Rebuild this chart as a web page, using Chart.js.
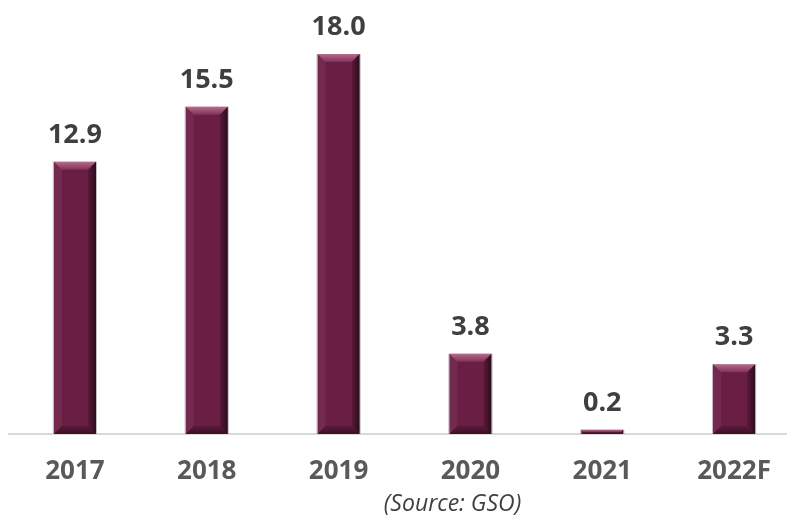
<!DOCTYPE html>
<html lang="en">
<head>
  <meta charset="utf-8">
  <title>GDP growth</title>
  <script src="https://cdn.jsdelivr.net/npm/chart.js"></script>
  <style>
    html, body { margin: 0; padding: 0; background: #fff; overflow: hidden; }
    #wrap { position: relative; width: 800px; height: 518px; }
    #source {
      position: absolute; left: 0; top: 486px; width: 905px; text-align: center;
      font: italic 23px "Open Sans", sans-serif; color: #404040;
    }
  </style>
</head>
<body>
  <div id="wrap">
    <canvas id="grafica" width="800" height="518"></canvas>
    <div id="source">(Source: GSO)</div>
  </div>
<script>
  const years = ['2017', '2018', '2019', '2020', '2021', '2022F'];
  const growth = [12.9, 15.5, 18.0, 3.8, 0.2, 3.3];

  // bevel effect + value labels on each bar
  const bevelBars = {
    id: 'bevelBars',
    afterDatasetsDraw(chart) {
      const ctx = chart.ctx;
      const meta = chart.getDatasetMeta(0);
      meta.data.forEach((bar, i) => {
        const l = bar.x - bar.width / 2, r = bar.x + bar.width / 2;
        const t = bar.y, bot = bar.base;
        const b = Math.min(8, (bot - t) / 2);
        ctx.save();
        // top
        let g = ctx.createLinearGradient(0, t, 0, t + b);
        g.addColorStop(0, 'rgba(255,190,215,0.5)');
        g.addColorStop(1, 'rgba(255,160,200,0.15)');
        ctx.fillStyle = g;
        ctx.beginPath();
        ctx.moveTo(l, t); ctx.lineTo(r, t); ctx.lineTo(r - b, t + b); ctx.lineTo(l + b, t + b);
        ctx.closePath(); ctx.fill();
        // left
        ctx.fillStyle = 'rgba(255,200,225,0.07)';
        ctx.beginPath();
        ctx.moveTo(l, t); ctx.lineTo(l + b, t + b); ctx.lineTo(l + b, bot - b); ctx.lineTo(l, bot);
        ctx.closePath(); ctx.fill();
        // right
        g = ctx.createLinearGradient(r - b, 0, r, 0);
        g.addColorStop(0, 'rgba(0,0,0,0.15)');
        g.addColorStop(1, 'rgba(0,0,0,0.6)');
        ctx.fillStyle = g;
        ctx.beginPath();
        ctx.moveTo(r, t); ctx.lineTo(r, bot); ctx.lineTo(r - b, bot - b); ctx.lineTo(r - b, t + b);
        ctx.closePath(); ctx.fill();
        // bottom
        g = ctx.createLinearGradient(0, bot - b, 0, bot);
        g.addColorStop(0, 'rgba(0,0,0,0.15)');
        g.addColorStop(1, 'rgba(0,0,0,0.45)');
        ctx.fillStyle = g;
        ctx.beginPath();
        ctx.moveTo(l, bot); ctx.lineTo(r, bot); ctx.lineTo(r - b, bot - b); ctx.lineTo(l + b, bot - b);
        ctx.closePath(); ctx.fill();
        // thin grey edge
        ctx.strokeStyle = 'rgba(170,160,165,0.7)';
        ctx.lineWidth = 1;
        ctx.beginPath();
        ctx.moveTo(l - 0.5, t); ctx.lineTo(l - 0.5, bot);
        ctx.moveTo(r + 0.5, t); ctx.lineTo(r + 0.5, bot);
        ctx.stroke();
        // value
        ctx.fillStyle = '#3f3f3f';
        ctx.font = 'bold 27px "Open Sans", sans-serif';
        ctx.textAlign = 'center';
        ctx.textBaseline = 'alphabetic';
        ctx.fillText(growth[i].toFixed(1), bar.x, t - 19);
        ctx.restore();
      });
    }
  };

  const myChart = new Chart(document.getElementById('grafica'), {
    type: 'bar',
    data: {
      labels: years,
      datasets: [{
        data: growth,
        backgroundColor: '#6a1e44',
        borderWidth: 0,
        barPercentage: 0.32,
        categoryPercentage: 1
      }]
    },
    options: {
      responsive: false,
      animation: false,
      layout: { padding: { left: 9, right: 0, top: 0, bottom: 0 } },
      plugins: { legend: { display: false }, tooltip: { enabled: false } },
      scales: {
        x: {
          grid: { display: false, drawTicks: false },
          border: { color: '#d9d9d9', width: 2 },
          ticks: {
            color: '#595959',
            padding: 22,
            font: { family: 'Open Sans', size: 26, weight: 'bold' }
          },
          afterFit(scale) { scale.height = 84; }
        },
        y: {
          display: false,
          min: 0,
          max: 20.56
        }
      }
    },
    plugins: [bevelBars]
  });
</script>
</body>
</html>
